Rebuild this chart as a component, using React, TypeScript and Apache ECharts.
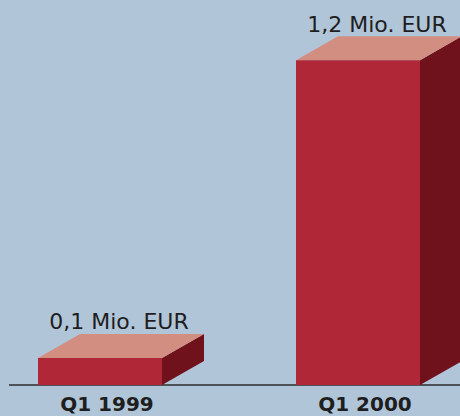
import React, { useEffect, useRef } from "react";
import * as echarts from "echarts";

const categories = ["Q1 1999", "Q1 2000"];
const values = [0.1, 1.2];
const valueLabels = ["0,1 Mio. EUR", "1,2 Mio. EUR"];

export default function App() {
  const ref = useRef<HTMLDivElement>(null);
  useEffect(() => {
    if (!ref.current) return;
    const chart = echarts.init(ref.current, null, { renderer: "svg" });
    const BAR_W = 124;
    const DX = 42;
    const DY = -24;
    chart.setOption({
      animation: false,
      backgroundColor: "#b1c5d9",
      grid: { left: 100, right: 102, top: 6, bottom: 31 },
      xAxis: {
        type: "category",
        data: categories,
        boundaryGap: false,
        axisLine: { show: false },
        axisTick: { show: false },
        splitLine: { show: false },
        axisLabel: {
          margin: 9,
          fontFamily: "DejaVu Sans",
          fontWeight: "bold",
          fontSize: 20,
          lineHeight: 20,
          color: "#1e1e1e",
          padding: [0, 0, 0, 14],
        },
      },
      yAxis: { type: "value", min: 0, max: 1.4, show: false },
      graphic: [
        {
          type: "line",
          shape: { x1: 9, y1: 385, x2: 460, y2: 385 },
          style: { stroke: "#2b2b2b", lineWidth: 1.5 },
          z: 1,
        },
      ],
      series: [
        {
          type: "custom",
          z: 5,
          data: values.map((v, i) => [i, v]),
          renderItem: (params: any, api: any) => {
            const idx = api.value(0);
            const val = api.value(1);
            const top = api.coord([idx, val]);
            const base = api.coord([idx, 0]);
            const L = top[0] - BAR_W / 2;
            const R = top[0] + BAR_W / 2;
            const T = top[1];
            const B = base[1];
            return {
              type: "group",
              children: [
                {
                  type: "polygon",
                  shape: { points: [[R, T], [R + DX, T + DY], [R + DX, B + DY], [R, B]] },
                  style: { fill: "#70121c" },
                },
                {
                  type: "polygon",
                  shape: { points: [[L, T], [R, T], [R + DX, T + DY], [L + DX, T + DY]] },
                  style: { fill: "#d38e82" },
                },
                {
                  type: "rect",
                  shape: { x: L, y: T, width: BAR_W, height: B - T },
                  style: { fill: "#b02838" },
                },
                {
                  type: "text",
                  x: top[0] + 19,
                  y: T + DY - 1,
                  style: {
                    text: valueLabels[params.dataIndex],
                    fontFamily: "DejaVu Sans",
                    fontSize: 22,
                    fill: "#1e1e1e",
                    textAlign: "center",
                    textVerticalAlign: "bottom",
                  },
                },
              ],
            };
          },
        },
      ],
    });
    return () => chart.dispose();
  }, []);
  return (
    <div
      ref={ref}
      style={{ position: "fixed", left: 0, top: 0, width: 460, height: 416 }}
    />
  );
}
